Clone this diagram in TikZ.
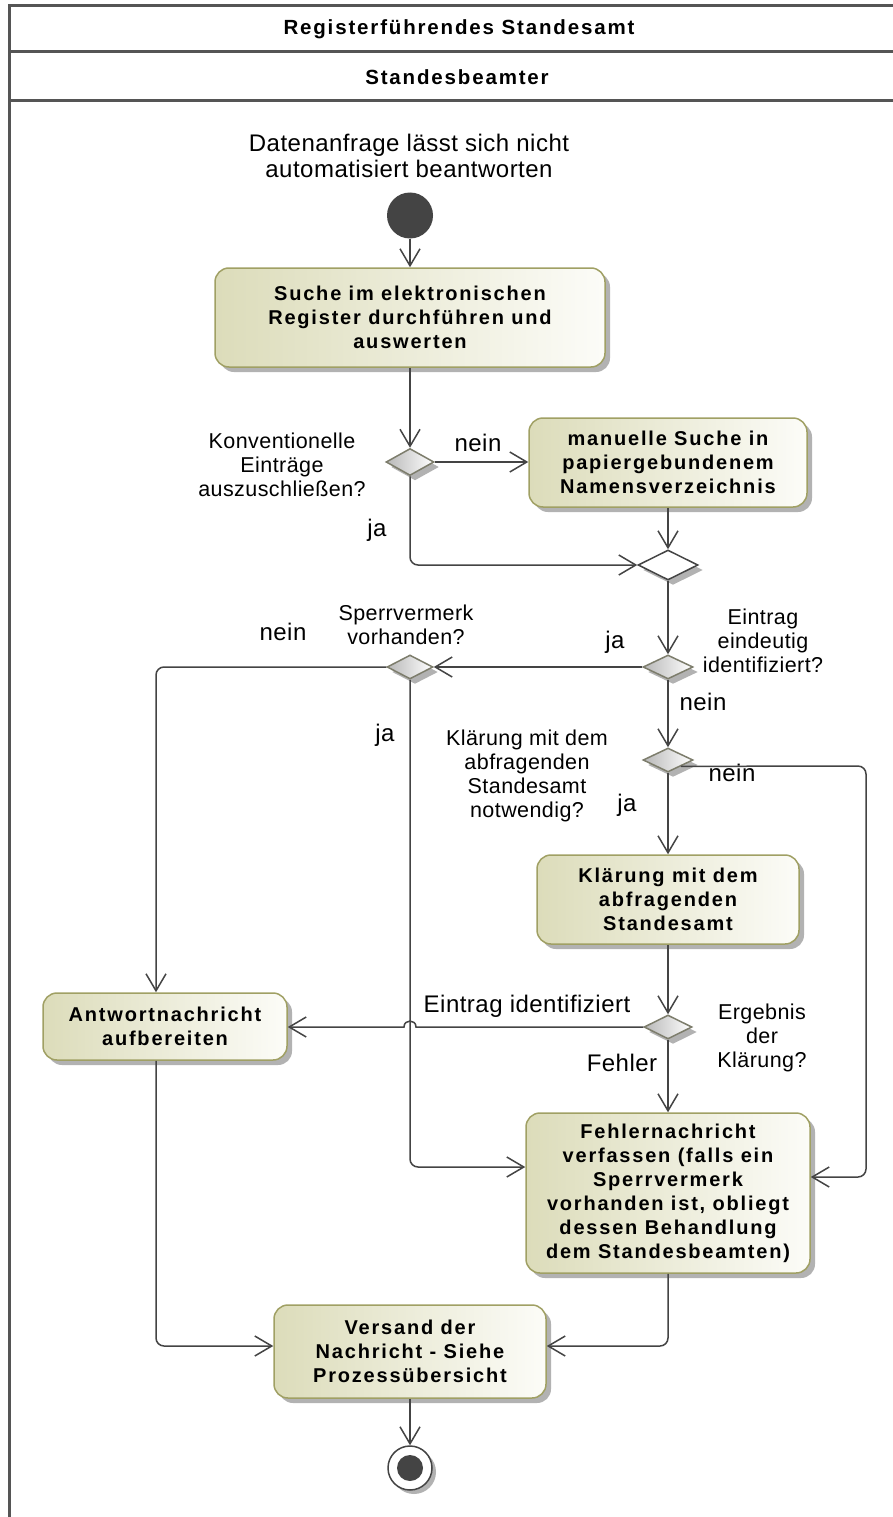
\documentclass[tikz,border=0pt]{standalone}
\usepackage{fontspec}
\setmainfont{Liberation Sans}
\newfontfamily\labfont[LetterSpace=2]{Liberation Sans}
\newfontfamily\boxfont[LetterSpace=9]{Liberation Sans}
\usetikzlibrary{shapes.geometric,arrows.meta,shadows}
\definecolor{linec}{RGB}{68,68,68}
\definecolor{framec}{RGB}{85,85,85}
\definecolor{boxl}{RGB}{220,220,186}
\definecolor{boxr}{RGB}{252,252,248}
\definecolor{boxb}{RGB}{160,160,100}
\definecolor{decb}{RGB}{125,125,108}
\definecolor{shad}{RGB}{178,178,178}
\tikzset{
  flow/.style={draw=linec, line width=1.5pt, rounded corners=8pt,
    -{Straight Barb[length=17pt,width=20pt,line width=1.5pt]}},
  action/.style={rectangle, rounded corners=14pt, draw=boxb, line width=1.5pt,
    left color=boxl, right color=boxr, align=center, inner sep=0pt,
    drop shadow={shadow xshift=5pt, shadow yshift=-5pt, fill=shad, opacity=1},
    font=\boxfont\bfseries\fontsize{20}{24}\selectfont},
  decision/.style={diamond, draw=decb, line width=1.5pt, inner sep=0pt,
    left color=black!28, right color=white,
    drop shadow={shadow xshift=5pt, shadow yshift=-5pt, fill=shad, opacity=1}},
  merge/.style={diamond, draw=linec, line width=1.5pt, inner sep=0pt, fill=white,
    drop shadow={shadow xshift=5pt, shadow yshift=-5pt, fill=shad, opacity=1}},
  lab/.style={align=center, inner sep=0pt,
    font=\labfont\fontsize{21.5}{24.2}\selectfont},
  guard/.style={align=center, inner sep=0pt,
    font=\labfont\fontsize{24}{26}\selectfont},
  hdr/.style={inner sep=0pt, font=\boxfont\bfseries\fontsize{20.5}{24}\selectfont},
  frameline/.style={draw=framec, line width=3pt}
}
\begin{document}
\begin{tikzpicture}[x=1pt,y=-1pt]
\useasboundingbox (0,0) rectangle (893,1517);
\fill[white] (0,0) rectangle (893,1517);
% swimlane frame
\draw[frameline] (9.5,1530) -- (9.5,6) -- (930,6);
\draw[frameline] (9.5,52) -- (930,52);
\draw[frameline] (9.5,101) -- (930,101);
\node[hdr] (lane) at (459,29) {Registerführendes Standesamt};
\node[hdr] (role) at (457,77) {Standesbeamter};

% nodes
\node[guard] (start) at (409,156) {Datenanfrage lässt sich nicht\\automatisiert beantworten};
\node[circle, fill=linec, minimum size=46pt, inner sep=0pt] (init) at (410,215.5) {};
\node[action, minimum width=390pt, minimum height=99pt] (a1) at (410,317.5)
  {Suche im elektronischen\\Register durchführen und\\auswerten};
\node[decision, minimum width=48pt, minimum height=27pt] (d1) at (410,462) {};
\node[lab] (q1) at (282,465) {Konventionelle\\Einträge\\auszuschließen?};
\node[action, minimum width=278pt, minimum height=89pt] (a2) at (668,462.5)
  {manuelle Suche in\\papiergebundenem\\Namensverzeichnis};
\node[merge, minimum width=60pt, minimum height=30pt] (d2) at (668,565) {};
\node[decision, minimum width=50pt, minimum height=24pt] (d3) at (668,667) {};
\node[lab] (q3) at (763,641) {Eintrag\\eindeutig\\identifiziert?};
\node[decision, minimum width=46pt, minimum height=24pt] (d4) at (410,667) {};
\node[lab] (q4) at (406,624.5) {Sperrvermerk\\vorhanden?};
\node[decision, minimum width=50pt, minimum height=24pt] (d5) at (668,760) {};
\node[lab] (q5) at (527,776) {Klärung mit dem\\abfragenden\\Standesamt\\notwendig?};
\node[action, minimum width=262pt, minimum height=89pt] (a3) at (668,899.5)
  {Klärung mit dem\\abfragenden\\Standesamt};
\node[decision, minimum width=48pt, minimum height=24pt] (d6) at (668,1027) {};
\node[lab] (q6) at (762,1038) {Ergebnis\\der\\Klärung?};
\node[action, minimum width=244pt, minimum height=67pt] (a4) at (165,1026.5)
  {Antwortnachricht\\aufbereiten};
\node[action, minimum width=284pt, minimum height=160pt] (a5) at (668,1193)
  {Fehlernachricht\\verfassen (falls ein\\Sperrvermerk\\vorhanden ist, obliegt\\dessen Behandlung\\dem Standesbeamten)};
\node[action, minimum width=272pt, minimum height=93pt] (a6) at (410,1351.5)
  {Versand der\\Nachricht - Siehe\\Prozessübersicht};
\node[circle, draw=linec, line width=1.5pt, fill=white, minimum size=44pt, inner sep=0pt,
  drop shadow={shadow xshift=4pt, shadow yshift=-4pt, fill=shad, opacity=1}] (fin) at (410,1468) {};
\node[circle, fill=linec, minimum size=26pt, inner sep=0pt] (finin) at (fin) {};

% edge labels
\node[guard] (l1) at (478,443) {nein};
\node[guard] (l2) at (377,530) {ja};
\node[guard] (l3) at (615,642) {ja};
\node[guard] (l4) at (283,632) {nein};
\node[guard] (l5) at (385,735) {ja};
\node[guard] (l6) at (703,702) {nein};
\node[guard] (l7) at (732,773) {nein};
\node[guard] (l8) at (627,805) {ja};
\node[guard] (l9) at (527,1006) {Eintrag identifiziert};
\node[guard] (l10) at (622,1063) {Fehler};

% bend coordinates
\coordinate (bA) at (410,565);
\coordinate (bB) at (156,667);
\coordinate (bC) at (410,1167);
\coordinate (bD) at (866,766);
\coordinate (bE) at (866,1177);
\coordinate (hopR) at (416,1027);
\coordinate (hopL) at (404,1027);
\coordinate (bF) at (156,1346);
\coordinate (bG) at (668,1346);

% connectors
\draw[flow] (init) -- (a1);
\draw[flow] (a1) -- (d1);
\draw[flow] (d1.east) -- (d1.east -| a2.west);
\draw[flow] (d1.south) -- (bA) -- (d2.west);
\draw[flow] (a2) -- (d2);
\draw[flow] (d2) -- (d3);
\draw[flow] (d3) -- (d4);
\draw[flow] (d4.west) -- (bB) -- (bB |- a4.north);
\draw[flow] (d4.south) -- (bC) -- (bC -| a5.west);
\draw[flow] (d3) -- (d5);
\draw[flow] (d5.south east) -- (bD) -- (bE) -- (bE -| a5.east);
\draw[flow] (d5) -- (a3);
\draw[flow] (a3) -- (d6);
\draw[flow, sharp corners] (d6.west) -- (hopR) .. controls (416,1019) and (404,1019) .. (hopL) -- (d6.west -| a4.east);
\draw[flow] (d6) -- (a5);
\draw[flow] (bF |- a4.south) -- (bF) -- (bF -| a6.west);
\draw[flow] (a5.south) -- (bG) -- (bG -| a6.east);
\draw[flow] (a6) -- (fin);
\end{tikzpicture}
\end{document}
